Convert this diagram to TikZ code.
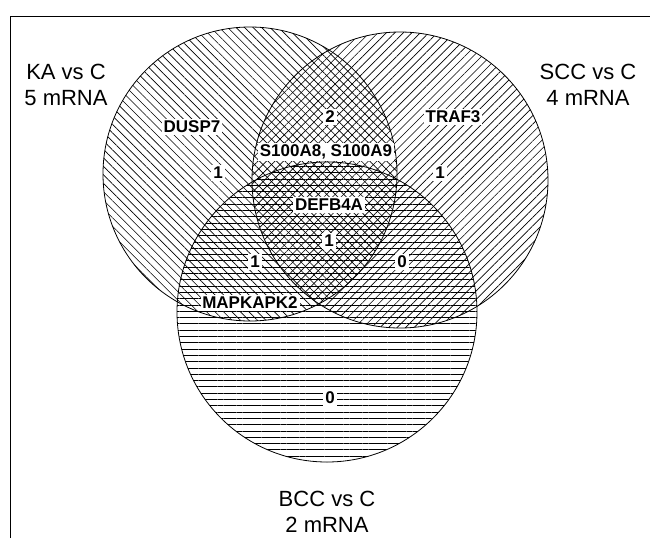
\documentclass[tikz,border=0pt]{standalone}
\usepackage{fontspec}
\setmainfont{Liberation Sans}
\usetikzlibrary{positioning, patterns.meta}

\begin{document}
\begin{tikzpicture}[
            x=1pt, y=-1pt,
            vennset/.style={circle, draw=black, line width=0.8pt, inner sep=0pt},
            grouplabel/.style={align=center, font=\fontsize{22}{26}\selectfont},
            gene/.style={fill=white, inner sep=1.8pt, font=\fontsize{17}{19}\selectfont\bfseries}
        ]
            \useasboundingbox (0,0) rectangle (650,538);

            % frame
            \draw[line width=0.8pt] (10,538) -- (10,16) -- (650,16);

            % the three sets
            \node[vennset, minimum size=294pt, pattern={Lines[angle=-45, distance=6pt, line width=0.65pt]}] at (250,174) (kaSet) {};
            \node[vennset, minimum size=296pt, pattern={Lines[angle=45, distance=6pt, line width=0.65pt]}] at (400,180) (sccSet) {};
            \node[vennset, minimum size=300pt, pattern={Lines[angle=0, distance=6.3pt, line width=0.65pt]}] at (327,312) (bccSet) {};

            \node[grouplabel] at (66,85) (kaLabel) {KA vs C\\5 mRNA};
            \node[grouplabel] at (588,85) (sccLabel) {SCC vs C\\4 mRNA};
            \node[grouplabel] at (327,512) (bccLabel) {BCC vs C\\2 mRNA};

            % genes and counts
            \node[gene] at (192,127) (dusp) {DUSP7};
            \node[gene] at (218,173) (kaOnly) {1};
            \node[gene] at (330,117) (kaScc) {2};
            \node[gene] at (326,152) (s100) {S100A8, S100A9};
            \node[gene] at (453,117) (traf) {TRAF3};
            \node[gene] at (440,173) (sccOnly) {1};
            \node[gene] at (329,205) (defb) {DEFB4A};
            \node[gene] at (329,241) (allThree) {1};
            \node[gene] at (255,262) (kaBcc) {1};
            \node[gene] at (402,262) (sccBcc) {0};
            \node[gene] at (250,303) (mapk) {MAPKAPK2};
            \node[gene] at (330,398) (bccOnly) {0};

        \end{tikzpicture}
\end{document}
